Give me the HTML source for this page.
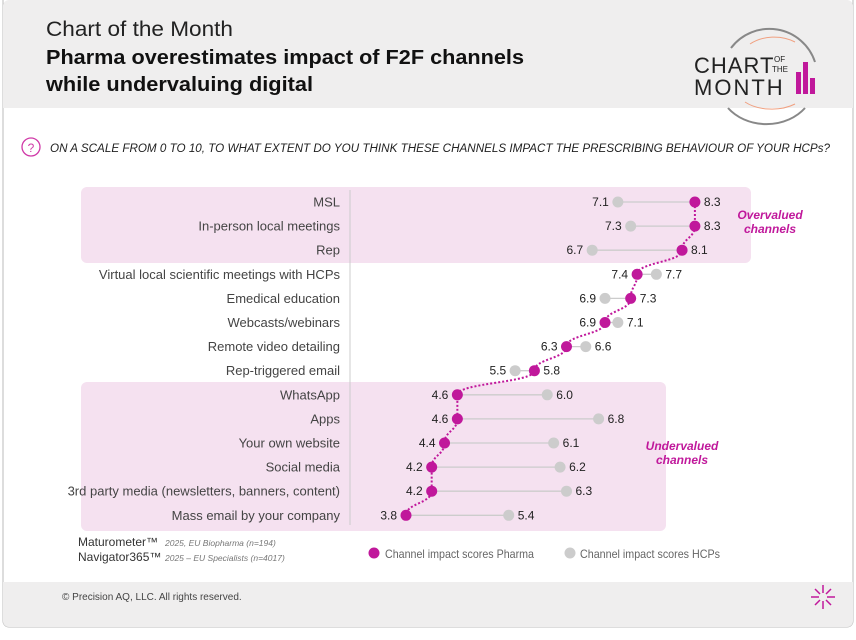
<!DOCTYPE html>
<html><head><meta charset="utf-8"><style>
body{margin:0;background:#fff;width:856px;height:635px;overflow:hidden;font-family:"Liberation Sans",sans-serif}
</style></head><body>
<svg width="856" height="635" viewBox="0 0 856 635" xmlns="http://www.w3.org/2000/svg" font-family="Liberation Sans, sans-serif">
<defs><clipPath id="c"><rect x="3" y="0" width="850" height="627" rx="6"/></clipPath></defs>
<rect x="3" y="-6" width="850" height="633" rx="6" fill="#fff" stroke="#bbb"/>
<g clip-path="url(#c)">
<rect x="3" y="0" width="850" height="108" fill="#efeeee"/>
<rect x="3" y="582" width="850" height="46" fill="#efeeee"/>
</g>
<text x="46" y="36" font-size="21" fill="#222" textLength="187" lengthAdjust="spacingAndGlyphs">Chart of the Month</text>
<text x="46" y="64" font-size="20" font-weight="bold" fill="#111" textLength="478" lengthAdjust="spacingAndGlyphs">Pharma overestimates impact of F2F channels</text>
<text x="46" y="91" font-size="20" font-weight="bold" fill="#111" textLength="267" lengthAdjust="spacingAndGlyphs">while undervaluing digital</text>
<!-- logo -->
<path d="M731 48 A48 48 0 0 1 815 62" fill="none" stroke="#888" stroke-width="2"/>
<path d="M728 108 A48 40 0 0 0 805 108" fill="none" stroke="#888" stroke-width="2"/>
<path d="M750 44 A35 25 0 0 1 795 42" fill="none" stroke="#f0a080" stroke-width="1"/>
<path d="M745 102 A35 20 0 0 0 795 104" fill="none" stroke="#f0a080" stroke-width="1"/>
<text x="694" y="73" font-size="22" fill="#222" letter-spacing="1">CHART</text>
<text x="774" y="62" font-size="8" fill="#222">OF</text>
<text x="772" y="72" font-size="8" fill="#222">THE</text>
<text x="694" y="95" font-size="22" fill="#222" letter-spacing="2">MONTH</text>
<rect x="796" y="72" width="5" height="22" fill="#c0189b"/><rect x="803" y="62" width="5" height="32" fill="#c0189b"/><rect x="810" y="78" width="5" height="16" fill="#c0189b"/>
<!-- question -->
<circle cx="31" cy="147" r="9" fill="none" stroke="#d03aa8" stroke-width="1.3"/>
<text x="31" y="152" font-size="12" fill="#d03aa8" text-anchor="middle">?</text>
<text x="50" y="152" font-size="12.3" font-style="italic" fill="#222" textLength="780" lengthAdjust="spacingAndGlyphs">ON A SCALE FROM 0 TO 10, TO WHAT EXTENT DO YOU THINK THESE CHANNELS IMPACT THE PRESCRIBING BEHAVIOUR OF YOUR HCPs?</text>
<rect x="81" y="187" width="670" height="76" rx="6" fill="#f5e1f0"/>
<rect x="81" y="382" width="585" height="149" rx="6" fill="#f5e1f0"/>
<line x1="350" y1="190" x2="350" y2="525" stroke="#ccc"/>
<text x="770" y="219" font-size="12" font-weight="bold" font-style="italic" fill="#c0189b" text-anchor="middle">Overvalued</text>
<text x="770" y="233" font-size="12" font-weight="bold" font-style="italic" fill="#c0189b" text-anchor="middle">channels</text>
<text x="682" y="450" font-size="12" font-weight="bold" font-style="italic" fill="#c0189b" text-anchor="middle">Undervalued</text>
<text x="682" y="464" font-size="12" font-weight="bold" font-style="italic" fill="#c0189b" text-anchor="middle">channels</text>
<g id="rows" font-size="13" fill="#444"></g>
<path id="dl" fill="none" stroke="#c0189b" stroke-width="2" stroke-dasharray="2 2"/>
<g id="dots"></g>
<text x="78" y="546" font-size="12" fill="#333">Maturometer™</text>
<text x="165" y="546" font-size="8.5" font-style="italic" fill="#777">2025, EU Biopharma (n=194)</text>
<text x="78" y="561" font-size="12" fill="#333">Navigator365™</text>
<text x="165" y="561" font-size="8.5" font-style="italic" fill="#777">2025 – EU Specialists (n=4017)</text>
<circle cx="374" cy="553" r="5.5" fill="#c0189b"/>
<text x="385" y="558" font-size="12" fill="#666" textLength="149" lengthAdjust="spacingAndGlyphs">Channel impact scores Pharma</text>
<circle cx="570" cy="553" r="5.5" fill="#ccc"/>
<text x="580" y="558" font-size="12" fill="#666" textLength="140" lengthAdjust="spacingAndGlyphs">Channel impact scores HCPs</text>
<text x="62" y="600" font-size="10" fill="#444">© Precision AQ, LLC. All rights reserved.</text>
<g transform="translate(823,597)" stroke="#c0189b" stroke-width="1.5">
<line x1="0" y1="-12" x2="0" y2="-4"/><line x1="0" y1="12" x2="0" y2="4"/><line x1="-12" y1="0" x2="-4" y2="0"/><line x1="12" y1="0" x2="4" y2="0"/>
<line x1="-8" y1="-8" x2="-3" y2="-3"/><line x1="8" y1="8" x2="3" y2="3"/><line x1="-8" y1="8" x2="-3" y2="3"/><line x1="8" y1="-8" x2="3" y2="-3"/></g>
</svg>
<script>
var d=[["MSL",8.3,7.1],["In-person local meetings",8.3,7.3],["Rep",8.1,6.7],["Virtual local scientific meetings with HCPs",7.4,7.7],["Emedical education",7.3,6.9],["Webcasts/webinars",6.9,7.1],["Remote video detailing",6.3,6.6],["Rep-triggered email",5.8,5.5],["WhatsApp",4.6,6.0],["Apps",4.6,6.8],["Your own website",4.4,6.1],["Social media",4.2,6.2],["3rd party media (newsletters, banners, content)",4.2,6.3],["Mass email by your company",3.8,5.4]];
var ns="http://www.w3.org/2000/svg",R=document.getElementById("rows"),D=document.getElementById("dots");
function X(v){return 406+(v-3.8)*64.2}
function el(t,a,p,txt){var e=document.createElementNS(ns,t);for(var k in a)e.setAttribute(k,a[k]);if(txt)e.textContent=txt;p.appendChild(e);return e}
var pts=[];
d.forEach(function(r,i){var y=202+i*24.1,p=X(r[1]),h=X(r[2]);pts.push([p,y]);
el("text",{x:340,y:y+4.5,"text-anchor":"end"},R,r[0]);
el("line",{x1:p,y1:y,x2:h,y2:y,stroke:"#ccc","stroke-width":1.3},D);
el("circle",{cx:h,cy:y,r:5.5,fill:"#ccc"},D);
el("circle",{cx:p,cy:y,r:5.5,fill:"#c0189b"},D);
var pr=r[1]>r[2];
el("text",{x:pr?p+9:p-9,y:y+4,"font-size":12,fill:"#222","text-anchor":pr?"start":"end"},D,r[1].toFixed(1));
el("text",{x:pr?h-9:h+9,y:y+4,"font-size":12,fill:"#222","text-anchor":pr?"end":"start"},D,r[2].toFixed(1));
});
var s="M"+pts[0][0]+" "+pts[0][1];
for(var i=1;i<pts.length;i++){var a=pts[i-1],b=pts[i],m=(a[1]+b[1])/2;s+=" C"+a[0]+" "+m+" "+b[0]+" "+m+" "+b[0]+" "+b[1];}
document.getElementById("dl").setAttribute("d",s);
</script>
</body></html>
